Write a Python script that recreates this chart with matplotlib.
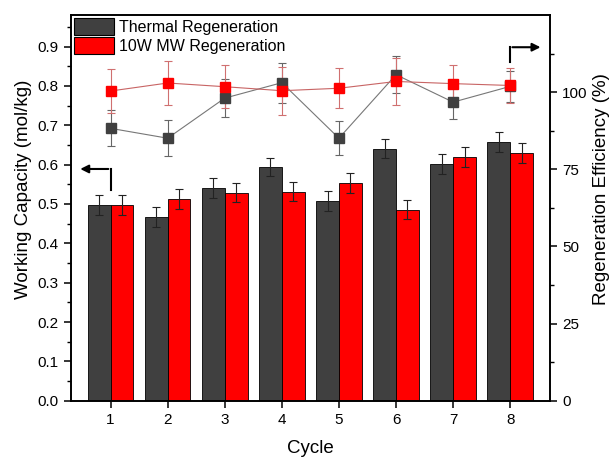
import numpy as np
import matplotlib.pyplot as plt
from matplotlib.patches import Patch

plt.rcParams['font.family'] = ['Liberation Sans', 'DejaVu Sans']

# data
cycles = [1, 2, 3, 4, 5, 6, 7, 8]
cap_thermal = [0.497, 0.467, 0.541, 0.594, 0.507, 0.641, 0.602, 0.657]
cap_mw = [0.497, 0.513, 0.529, 0.531, 0.553, 0.486, 0.619, 0.629]
cap_thermal_err = [0.025, 0.025, 0.025, 0.024, 0.025, 0.025, 0.025, 0.025]
cap_mw_err = [0.025, 0.025, 0.025, 0.024, 0.025, 0.025, 0.025, 0.025]

eff_thermal = [88.3, 85.1, 98.1, 103.1, 85.1, 105.7, 96.8, 101.9]
eff_mw = [100.4, 103.0, 101.8, 100.5, 101.3, 103.5, 102.8, 102.2]
eff_thermal_err = [5.8, 5.9, 6.2, 6.5, 5.5, 5.9, 5.5, 5.0]
eff_mw_err = [7.2, 7.1, 7.0, 7.8, 6.5, 7.5, 6.0, 5.7]

x = np.array(cycles)
dark = '#404040'
red = '#ff0000'

fig = plt.figure(figsize=(6.14, 4.59), dpi=100)
ax = fig.add_axes([0.115, 0.127, 0.781, 0.840])
ax2 = ax.twinx()

# bars
ekw = dict(ecolor='#222222', elinewidth=0.8, capsize=3, capthick=0.8)
ax.bar(x - 0.2, cap_thermal, 0.4, color=dark, edgecolor='black', linewidth=0.6,
       yerr=cap_thermal_err, error_kw=ekw)
ax.bar(x + 0.2, cap_mw, 0.4, color=red, edgecolor='black', linewidth=0.6,
       yerr=cap_mw_err, error_kw=ekw)

# efficiency lines
ax2.errorbar(x, eff_thermal, yerr=eff_thermal_err, color='#777777', lw=0.8,
             marker='s', ms=7, mfc=dark, mec=dark, ecolor='#666666',
             elinewidth=0.8, capsize=3, capthick=0.8)
ax2.errorbar(x, eff_mw, yerr=eff_mw_err, color='#c86464', lw=0.8,
             marker='s', ms=7, mfc=red, mec=red, ecolor='#d07070',
             elinewidth=0.8, capsize=3, capthick=0.8)

ax.set_xlim(0.3, 8.7)
ax.set_ylim(0, 0.98)
ax2.set_ylim(0, 125)
ax.set_xticks(cycles)
ax.set_yticks(np.arange(0, 0.95, 0.1))
ax.set_yticks(np.arange(0.05, 0.98, 0.1), minor=True)
ax2.set_yticks([0, 25, 50, 75, 100])
ax2.set_yticks([12.5, 37.5, 62.5, 87.5, 112.5], minor=True)
ax.yaxis.set_major_formatter(plt.FormatStrFormatter('%.1f'))

for a in (ax, ax2):
    for s in a.spines.values():
        s.set_linewidth(1.2)
    a.tick_params(which='major', direction='out', length=5, width=1.1, labelsize=11)
    a.tick_params(which='minor', direction='out', length=3, width=1.0)

ax.set_xlabel('Cycle', fontsize=13.5, labelpad=10)
ax.set_ylabel('Working Capacity (mol/kg)', fontsize=13.5)
ax2.set_ylabel('Regeneration Efficiency (%)', fontsize=13.5)
ax.yaxis.set_label_coords(-0.081, 0.549)
ax2.yaxis.set_label_coords(1.090, 0.549)

# axis arrows
ax.plot([1, 1], [0.536, 0.589], color='black', lw=1.5)
ax.annotate('', xy=(0.42, 0.589), xytext=(1.01, 0.589),
            arrowprops=dict(arrowstyle='-|>', color='black', lw=1.5, mutation_scale=12))
ax2.plot([8, 8], [109.9, 114.6], color='black', lw=1.5)
ax2.annotate('', xy=(8.58, 114.6), xytext=(7.99, 114.6),
             arrowprops=dict(arrowstyle='-|>', color='black', lw=1.5, mutation_scale=12))

handles = [Patch(facecolor=dark, edgecolor='black', linewidth=0.8),
           Patch(facecolor=red, edgecolor='black', linewidth=0.8)]
ax2.legend(handles, ['Thermal Regeneration', '10W MW Regeneration'], loc='upper left',
           frameon=False, fontsize=11.5, handlelength=2.5, handleheight=1.2,
           handletextpad=0.35, borderaxespad=0.1, labelspacing=0.15, borderpad=0.1)

fig.savefig('out.png', dpi=100)
